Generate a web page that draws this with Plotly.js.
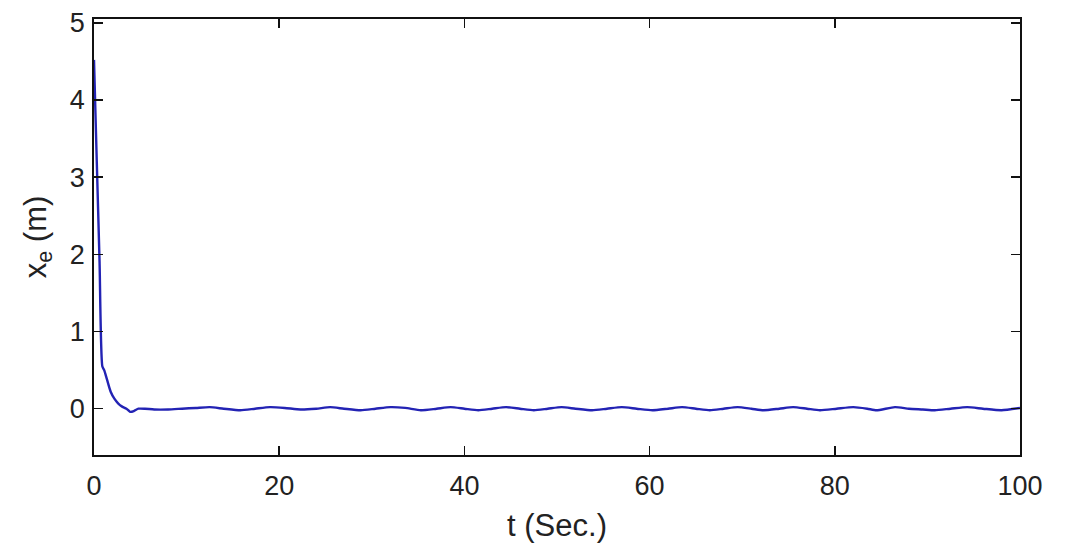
<!DOCTYPE html>
<html>
<head>
<meta charset="utf-8">
<script src="https://cdn.plot.ly/plotly-3.0.1.min.js"></script>
<style>html,body{margin:0;padding:0;background:#fff;}#chart{width:1078px;height:547px;}</style>
</head>
<body>
<div id="chart"></div>
<script>
// Time (s) and x_e (m)
const tValues = [0, 0.3, 0.6, 0.9, 1.1, 1.4, 1.8, 2.2, 2.6, 3.0, 3.5, 3.9, 4.3, 4.8, 5.5, 6.5,
  8.0, 9.5, 11.0, 12.5, 14.0, 15.8, 17.4, 19.0, 20.6, 22.3, 24.0, 25.5, 27.0, 28.8, 30.4, 32.0,
  33.6, 35.3, 37.0, 38.5, 40.0, 41.5, 43.0, 44.5, 46.0, 47.5, 49.0, 50.5, 52.0, 53.8, 55.4, 57.0,
  58.6, 60.3, 62.0, 63.5, 65.0, 66.5, 68.0, 69.5, 71.0, 72.3, 74.0, 75.5, 77.0, 78.4, 80.2, 82.0,
  83.5, 84.5, 86.5, 88.0, 89.5, 90.8, 92.5, 94.3, 96.0, 98.0, 100];
const xeValues = [4.52, 3.2, 1.9, 0.55, 0.5, 0.38, 0.22, 0.13, 0.07, 0.03, 0.0, -0.04, -0.03, 0.0, 0.0, -0.01,
  -0.01, 0.0, 0.01, 0.02, 0.0, -0.02, 0.0, 0.02, 0.01, -0.01, 0.0, 0.02, 0.0, -0.02, 0.0, 0.02,
  0.01, -0.02, 0.0, 0.02, 0.0, -0.02, 0.0, 0.02, 0.0, -0.02, 0.0, 0.02, 0.0, -0.02, 0.0, 0.02,
  0.0, -0.02, 0.0, 0.02, 0.0, -0.02, 0.0, 0.02, 0.0, -0.02, 0.0, 0.02, 0.0, -0.02, 0.0, 0.02,
  0.0, -0.02, 0.02, 0.0, -0.01, -0.02, 0.0, 0.02, 0.0, -0.02, 0.01];
const xTicks = [0, 20, 40, 60, 80, 100];
const yTicks = [0, 1, 2, 3, 4, 5];

const font = "Liberation Sans, Arial, sans-serif";
Plotly.newPlot('chart', [{
  x: tValues, y: xeValues, type: 'scatter', mode: 'lines',
  line: {color: 'rgb(35,35,180)', width: 2.4, shape: 'spline', smoothing: 0.6},
  hoverinfo: 'skip'
}], {
  width: 1078, height: 547,
  margin: {l: 94, r: 58, t: 19, b: 92},
  paper_bgcolor: '#fff', plot_bgcolor: '#fff',
  showlegend: false,
  font: {family: font, color: '#222', size: 27},
  xaxis: {
    range: [0, 100], tickvals: xTicks, ticktext: xTicks.map(String),
    ticks: 'inside', ticklen: 9, tickwidth: 1.5, tickcolor: '#111',
    showline: true, linecolor: '#111', linewidth: 1.8, mirror: 'ticks',
    showgrid: false, zeroline: false, ticklabelstandoff: 6,
    tickfont: {size: 27, family: font, color: '#222'},
    title: {text: 't (Sec.)', font: {size: 31, family: font, color: '#222'}, standoff: 14}
  },
  yaxis: {
    range: [-0.6, 5.05], tickvals: yTicks, ticktext: yTicks.map(String),
    ticks: 'inside', ticklen: 9, tickwidth: 1.5, tickcolor: '#111',
    showline: true, linecolor: '#111', linewidth: 1.8, mirror: 'ticks',
    showgrid: false, zeroline: false, ticklabelstandoff: 2,
    tickfont: {size: 27, family: font, color: '#222'},
    title: {text: 'x<sub>e</sub> (m)', font: {size: 31, family: font, color: '#222'}, standoff: 14}
  }
}, {staticPlot: true});
</script>
</body>
</html>
